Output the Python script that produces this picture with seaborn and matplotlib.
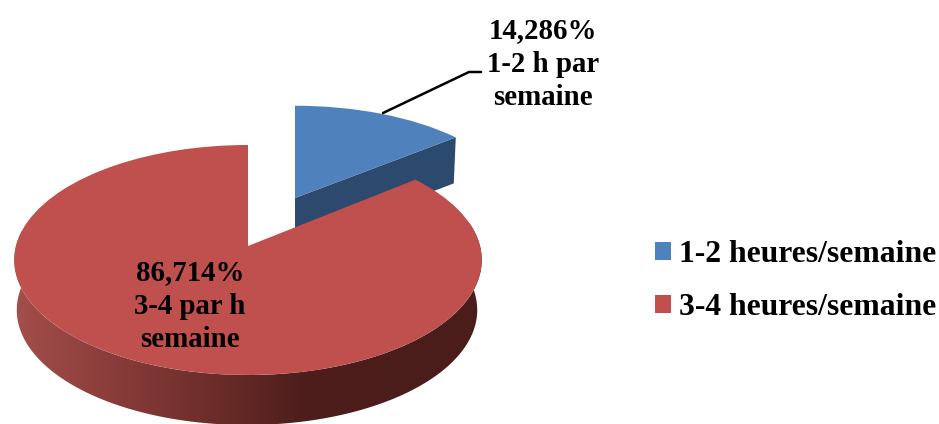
import numpy as np
import matplotlib
matplotlib.use("Agg")
import matplotlib.pyplot as plt
import seaborn as sns
from matplotlib.patches import Patch, Polygon
from matplotlib.transforms import Transform

# values and labels as printed on the chart
categories = ["1-2 heures/semaine", "3-4 heures/semaine"]
values = [14.286, 86.714]
slice_labels = ["14,286%\n1-2 h par\nsemaine", "86,714%\n3-4 par h\nsemaine"]

top_colors = ["#4F81BD", "#C0504D"]
blue_side = "#2C4A6E"
red_side = ["#A44F4C", "#8A3D3A", "#6E2E2B", "#4E1E1C", "#4A1C1A"]

# fake 3d tilt of the pie: centre x, centre y, x radius, y radius
RED_TILT = (248, 246, 232, 113.3)
BLUE_TILT = (295, 198, 223, 103.5)
B = 0.1217
DEPTH = 50


def project(u, v, tilt):
    cx, cy, kx, ky = tilt
    w = 1 + B * v
    return cx + kx * u / w, cy - ky * v / w


class Tilt(Transform):
    input_dims = 2
    output_dims = 2

    def __init__(self, tilt):
        super().__init__()
        self.tilt = tilt

    def transform_non_affine(self, values):
        x, y = project(values[:, 0], values[:, 1], self.tilt)
        return np.column_stack([x, y])


sns.set_theme(style="white")
plt.rcParams["font.family"] = ["Liberation Serif", "DejaVu Serif"]
plt.rcParams["font.weight"] = "bold"

fig = plt.figure(figsize=(9.39, 4.24), dpi=100)
ax = fig.add_axes([0, 0, 1, 1])

wedges, _ = ax.pie(values, colors=top_colors, startangle=90,
                   counterclock=False, wedgeprops={"linewidth": 0})
for w, tilt, z in zip(wedges, [BLUE_TILT, RED_TILT], [2, 4]):
    w.set_transform(Tilt(tilt) + ax.transData)
    w.set_zorder(z)

# cut face of the blue slice
tip = np.deg2rad(90 - 360 * values[0] / sum(values))
x0, y0 = project(0, 0, BLUE_TILT)
x1, y1 = project(np.cos(tip), np.sin(tip), BLUE_TILT)
ax.add_patch(Polygon([(x0, y0), (x1, y1), (x1 - 2, y1 + 46), (x0, y0 + 46)],
                     closed=True, fc=blue_side, ec="none", zorder=1))

# outer wall of the red slice, shaded left to right
theta = np.deg2rad(np.linspace(172, 372, 200))
xt, yt = project(np.cos(theta), np.sin(theta), RED_TILT)
xb, yb = project(0.985 * np.cos(theta), np.sin(theta), RED_TILT)
wall = Polygon(np.column_stack([np.r_[xt, xb[::-1] - 1], np.r_[yt, yb[::-1] + DEPTH]]),
               closed=True, fc="none", ec="none")
ax.add_patch(wall)
cmap = sns.blend_palette(red_side, as_cmap=True)
img = ax.imshow(np.linspace(0, 1, 256)[None, :], cmap=cmap, aspect="auto",
                extent=[12, 400, 424, 200], zorder=3)
img2 = ax.imshow([[1.0]], cmap=cmap, vmin=0, vmax=1, aspect="auto",
                 extent=[400, 490, 424, 200], zorder=3)
img.set_clip_path(wall)
img2.set_clip_path(wall)

ax.set_xlim(0, 939)
ax.set_ylim(424, 0)
ax.set_aspect("auto")
ax.axis("off")

# leader line of the blue slice
ax.plot([383, 469, 481], [113, 72, 72], color="black", lw=1.8, zorder=5)

ax.text(543, 64, slice_labels[0], ha="center", va="center", fontsize=20.8,
        fontweight="bold", color="black", linespacing=1.32, zorder=6)
ax.text(190, 306, slice_labels[1], ha="center", va="center", fontsize=20.8,
        fontweight="bold", color="black", linespacing=1.32, zorder=6)

handles = [Patch(fc=c, ec="none") for c in top_colors]
ax.legend(handles, categories, loc="center left", bbox_to_anchor=(655 / 939, 1 - 281 / 424),
          frameon=False, fontsize=22.8, labelcolor="black", handlelength=0.5, handleheight=0.5,
          handletextpad=0.25, labelspacing=0.76, borderpad=0, borderaxespad=0)

fig.savefig("out.png", dpi=100)
